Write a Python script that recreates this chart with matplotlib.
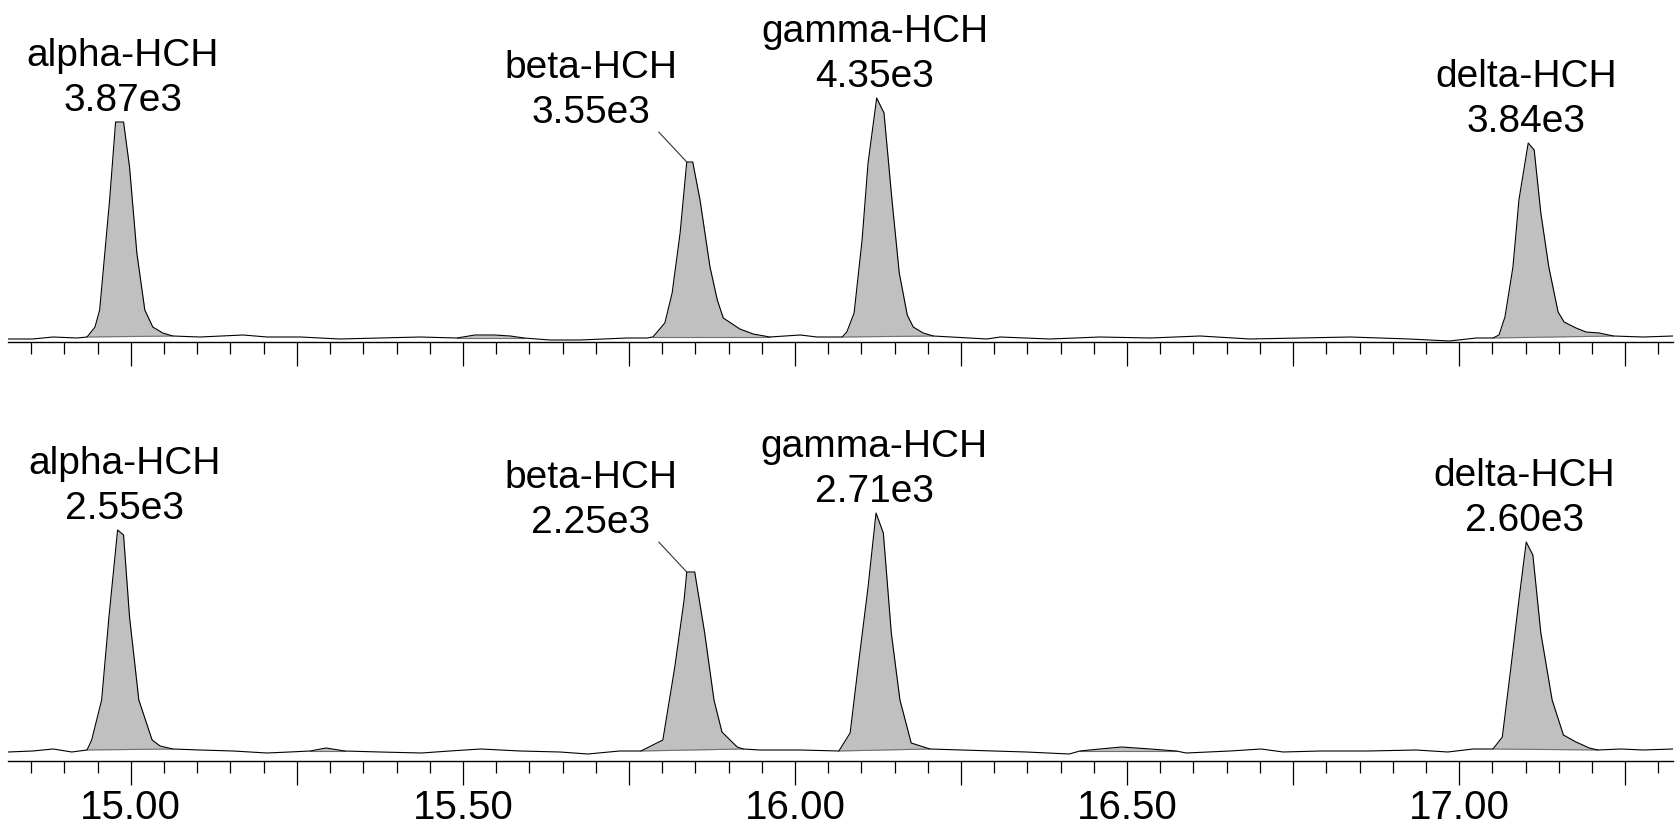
import numpy as np
import matplotlib
matplotlib.use("Agg")
import matplotlib.pyplot as plt
from matplotlib.ticker import MultipleLocator, FuncFormatter

plt.rcParams["font.family"] = ["Liberation Sans", "DejaVu Sans"]

# retention time (min) / abundance (arb. units)
top_time = [14.815, 14.852, 14.883, 14.919,
            14.934, 14.946, 14.953, 14.968, 14.977, 14.989, 14.998, 15.009, 15.021, 15.033, 15.048, 15.063,
            15.104, 15.169, 15.205, 15.255, 15.315, 15.375, 15.435, 15.491, 15.518, 15.548, 15.571, 15.592,
            15.631, 15.676, 15.747, 15.777,
            15.786, 15.804, 15.815, 15.827, 15.837, 15.846, 15.857, 15.872, 15.883, 15.892, 15.917, 15.937, 15.962,
            16.008, 16.033,
            16.071, 16.078, 16.089, 16.101, 16.110, 16.123, 16.134, 16.146, 16.157, 16.169, 16.178, 16.193, 16.208,
            16.289, 16.309, 16.384, 16.459, 16.535, 16.610, 16.685, 16.761, 16.836, 16.925, 16.985, 17.026,
            17.051, 17.060, 17.069, 17.081, 17.090, 17.104, 17.113, 17.123, 17.135, 17.149, 17.158, 17.176,
            17.191, 17.211, 17.232,
            17.277, 17.322]
top_signal = [-1, -1, 1, 0,
              1, 11, 28, 138, 216, 216, 171, 85, 28, 11, 5, 2,
              1, 3, 1, 1, -1, 0, 1, 0, 3, 3, 2, 0,
              -2, -2, 0, 0,
              1, 15, 45, 105, 176, 176, 138, 71, 38, 20, 9, 4, 1,
              3, 1,
              1, 6, 25, 98, 175, 240, 225, 138, 65, 23, 11, 5, 2,
              -1, 1, -1, 1, 0, 2, -1, 0, 1, -1, -3, 0,
              0, 3, 21, 71, 138, 195, 188, 125, 71, 26, 16, 10,
              6, 5, 2,
              1, 2]

bottom_time = [14.815, 14.852, 14.883, 14.911,
               14.934, 14.941, 14.956, 14.967, 14.980, 14.989, 14.998, 15.012, 15.032, 15.044, 15.063,
               15.104, 15.154, 15.205, 15.239, 15.270, 15.294, 15.322, 15.375, 15.438, 15.480, 15.527,
               15.586, 15.646, 15.688, 15.736,
               15.768, 15.801, 15.819, 15.833, 15.837, 15.849, 15.864, 15.878, 15.890, 15.913, 15.922,
               15.947, 16.008,
               16.066, 16.083, 16.095, 16.110, 16.122, 16.133, 16.145, 16.158, 16.175, 16.203,
               16.251, 16.348, 16.413, 16.429, 16.459, 16.492, 16.535, 16.574, 16.589, 16.655, 16.702,
               16.735, 16.791, 16.863, 16.935, 16.983, 17.021,
               17.051, 17.065, 17.078, 17.090, 17.101, 17.111, 17.123, 17.140, 17.157, 17.176, 17.196, 17.209,
               17.244, 17.277, 17.322]
bottom_signal = [-1, 0, 2, -1,
                 1, 11, 51, 134, 221, 216, 134, 51, 11, 5, 2,
                 1, 0, -2, -1, 0, 3, 0, -1, -2, 0, 2,
                 0, -1, -3, 0,
                 0, 11, 84, 151, 179, 179, 118, 51, 19, 4, 2,
                 1, 1,
                 0, 18, 84, 164, 238, 218, 118, 51, 8, 2,
                 1, -1, -3, 0, 2, 4, 2, 0, -2, 0, 2,
                 -1, 0, 0, 1, -1, 2,
                 2, 14, 84, 151, 209, 196, 118, 51, 16, 9, 3, 1,
                 2, 1, 2]

# integration windows (start, end) for the shaded areas
top_windows = [(14.934, 15.063), (15.491, 15.592), (15.786, 15.962), (16.071, 16.208), (17.051, 17.232)]
bottom_windows = [(14.934, 15.063), (15.270, 15.322), (15.768, 15.922), (16.066, 16.203),
                  (16.429, 16.574), (17.051, 17.209)]

# labelled peaks
compounds = ["alpha-HCH", "beta-HCH", "gamma-HCH", "delta-HCH"]
peak_windows = [(14.93, 15.07), (15.76, 15.97), (16.06, 16.21), (17.04, 17.24)]
top_areas = ["3.87e3", "3.55e3", "4.35e3", "3.84e3"]
bottom_areas = ["2.55e3", "2.25e3", "2.71e3", "2.60e3"]

W, H = 1676, 825
fig = plt.figure(figsize=(W / 100, H / 100), dpi=100)

def px_axes(left, top, right, bottom):
    return fig.add_axes([left / W, 1 - bottom / H, (right - left) / W, (bottom - top) / H])

ax_top = px_axes(8, 0, 1673, 342)
ax_bot = px_axes(8, 390, 1673, 761)

label_dx = [7, -96, -2, -2]
label_dy = [11, 39, 11, 11]

def draw_trace(ax, t, s, windows, areas, ylim, show_labels):
    t = np.array(t)
    s = np.array(s, dtype=float)
    for a, b in windows:
        m = (t >= a) & (t <= b)
        base = np.interp(t[m], [a, b], [np.interp(a, t, s), np.interp(b, t, s)])
        ax.fill_between(t[m], base, s[m], color="#c0c0c0", lw=0)
        ax.plot([a, b], [np.interp(a, t, s), np.interp(b, t, s)], color="#707070", lw=0.8)
    ax.plot(t, s, color="black", lw=0.8)

    for i, (a, b) in enumerate(peak_windows):
        m = (t >= a) & (t <= b)
        k = np.argmax(s[m])
        tx, sy = t[m][k], s[m][k]
        ax.annotate(areas[i], xy=(tx, sy), xytext=(label_dx[i], label_dy[i]),
                    textcoords="offset pixels", ha="center", va="baseline", fontsize=28)
        ax.annotate(compounds[i], xy=(tx, sy), xytext=(label_dx[i], label_dy[i] + 45),
                    textcoords="offset pixels", ha="center", va="baseline", fontsize=28)
        if i == 1:
            ax.annotate("", xy=(tx, sy), xytext=(-28, 30), textcoords="offset pixels",
                        arrowprops=dict(arrowstyle="-", lw=0.8, color="#333333",
                                        shrinkA=0, shrinkB=0))

    ax.set_xlim(14.815, 17.322)
    ax.set_ylim(*ylim)
    for side in ["top", "left", "right"]:
        ax.spines[side].set_visible(False)
    ax.spines["bottom"].set_linewidth(1.0)
    ax.set_yticks([])
    ax.xaxis.set_major_locator(MultipleLocator(0.25))
    ax.xaxis.set_minor_locator(MultipleLocator(0.05))
    ax.tick_params(axis="x", which="major", direction="out", length=17, width=0.9, pad=3, labelsize=29)
    ax.tick_params(axis="x", which="minor", direction="out", length=8.5, width=0.9)
    if show_labels:
        ax.xaxis.set_major_formatter(FuncFormatter(
            lambda v, p: "%.2f" % v if abs(v * 2 - round(v * 2)) < 1e-6 else ""))
    else:
        ax.set_xticklabels([])
    ax.patch.set_alpha(0)

draw_trace(ax_top, top_time, top_signal, top_windows, top_areas, (-4, 338), False)
draw_trace(ax_bot, bottom_time, bottom_signal, bottom_windows, bottom_areas, (-10, 361), True)

fig.savefig("out.png", dpi=100)
